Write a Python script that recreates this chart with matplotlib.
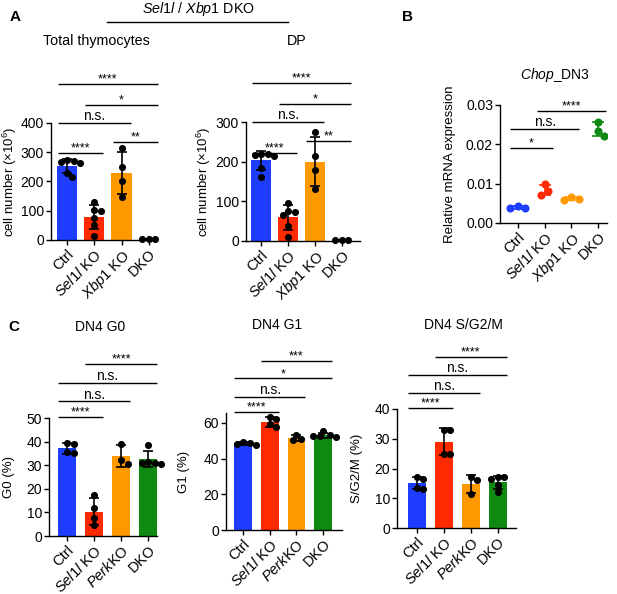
import numpy as np
import matplotlib
matplotlib.use("Agg")
import matplotlib.pyplot as plt

plt.rcParams['font.family'] = ['Liberation Sans', 'DejaVu Sans']
plt.rcParams['mathtext.fontset'] = 'custom'
plt.rcParams['mathtext.rm'] = 'Liberation Sans'
plt.rcParams['mathtext.it'] = 'Liberation Sans:italic'
plt.rcParams['mathtext.bf'] = 'Liberation Sans:bold'
plt.rcParams['axes.linewidth'] = 1.0
plt.rcParams['xtick.major.width'] = 1.0
plt.rcParams['ytick.major.width'] = 1.0
plt.rcParams['xtick.major.size'] = 3.5
plt.rcParams['ytick.major.size'] = 3.5

# ---------------- data ----------------
colors4 = ["#1f3dff", "#ff2a00", "#ff9900", "#0e8a12"]

labels_A = ["Ctrl", r"$\mathit{Sel1l}$ KO", r"$\mathit{Xbp1}$ KO", "DKO"]
labels_C = ["Ctrl", r"$\mathit{Sel1l}$ KO", r"$\mathit{Perk}$KO", "DKO"]

total_ctrl = [275, 270, 268, 262, 230, 215]
total_sel1l = [130, 102, 100, 75, 52, 15]
total_xbp1 = [315, 250, 200, 148]
total_dko = [3, 3, 3]

dp_ctrl = [220, 220, 218, 214, 185, 162]
dp_sel1l = [97, 76, 72, 66, 38, 10]
dp_xbp1 = [275, 215, 180, 130]
dp_dko = [2, 2, 2]

chop_ctrl = [0.0037, 0.0043, 0.0039]
chop_sel1l = [0.0072, 0.0098, 0.0081]
chop_xbp1 = [0.0058, 0.0066, 0.0061]
chop_dko = [0.0258, 0.0222, 0.0235]

g0_ctrl = [39.5, 39.0, 35.5, 35.0]
g0_sel1l = [17.5, 12.0, 7.5, 4.5]
g0_perk = [39.0, 32.0, 30.5]
g0_dko = [38.5, 31.5, 31.0, 30.5, 31.0]

g1_ctrl = [49.5, 48.5, 47.5, 48.0]
g1_sel1l = [63.5, 62.5, 59.5, 57.5]
g1_perk = [53.5, 51.0, 50.5]
g1_dko = [55.5, 53.5, 52.0, 52.5, 52.5]

s_ctrl = [17.0, 16.5, 13.0, 13.5]
s_sel1l = [33.0, 33.0, 25.0, 25.0]
s_perk = [17.0, 16.0, 11.5]
s_dko = [17.0, 17.0, 16.5, 14.5, 12.0]

# significance: (group_a, group_b, y, label)
sig_total = [(0, 1, 297, "****"), (2, 3, 335, "**"), (0, 2, 400, "n.s."),
             (1, 3, 462, "*"), (0, 3, 533, "****")]
sig_dp = [(0, 1, 222, "****"), (2, 3, 252, "**"), (0, 2, 300, "n.s."),
          (1, 3, 346, "*"), (0, 3, 398, "****")]
sig_chop = [(0, 1, 0.0190, "*"), (0, 2, 0.0239, "n.s."), (1, 3, 0.0285, "****")]
sig_g0 = [(0, 1, 50.5, "****"), (0, 2, 57.0, "n.s."), (0, 3, 65.0, "n.s."),
          (1, 3, 73.0, "****")]
sig_g1 = [(0, 1, 66.0, "****"), (0, 2, 74.5, "n.s."), (0, 3, 85.0, "*"),
          (1, 3, 95.0, "***")]
sig_s = [(0, 1, 40.5, "****"), (0, 2, 45.5, "n.s."), (0, 3, 51.5, "n.s."),
         (1, 3, 57.5, "****")]

W, H = 617, 594
fig = plt.figure(figsize=(W / 100, H / 100), dpi=100)

TICK_FS = 10
XLAB_FS = 10.5
YLAB_FS = 9.5
TITLE_FS = 10


def add_ax(x0, x1, y0, y1):
    return fig.add_axes([x0 / W, 1 - y0 / H, (x1 - x0) / W, (y0 - y1) / H])


def swarm_x(ax, xc, ys, d_px):
    t = ax.transData
    p0 = t.transform((0, 0))
    p1 = t.transform((1, 1))
    sx, sy = p1[0] - p0[0], p1[1] - p0[1]
    cands = np.arange(-4, 4.01, 0.25) * d_px
    cands = cands[np.argsort(np.abs(cands) + 1e-6 * (cands < 0))]
    placed = []
    xs = np.zeros(len(ys))
    for i in np.argsort(ys)[::-1]:
        ypx = ys[i] * sy
        for c in cands:
            if all((c - px) ** 2 + (ypx - py) ** 2 >= (d_px * 0.95) ** 2 for px, py in placed):
                placed.append((c, ypx))
                xs[i] = xc + c / sx
                break
    return xs


def style_ax(ax):
    for s in ["top", "right"]:
        ax.spines[s].set_visible(False)
    ax.tick_params(labelsize=TICK_FS, pad=1.5)


def sig_lines(ax, sigs, pad=0.33, fs_star=9, fs_ns=10):
    for a, b, y, lab in sigs:
        ax.plot([a - pad, b + pad], [y, y], color="black", lw=1.0, clip_on=False,
                solid_capstyle="butt")
        if lab == "n.s.":
            ax.annotate(lab, ((a + b) / 2, y), xytext=(0, 2), textcoords="offset points",
                        ha="center", va="baseline", fontsize=fs_ns, annotation_clip=False)
        else:
            ax.annotate(lab, ((a + b) / 2, y), xytext=(0, 1.0), textcoords="offset points",
                        ha="center", va="baseline", fontsize=fs_star, annotation_clip=False)


def xlabels(ax, labels):
    ax.set_xticks(range(len(labels)))
    ax.set_xticklabels(labels, rotation=45, ha="right", rotation_mode="anchor",
                       fontsize=XLAB_FS)


def bar_panel(ax, groups, width, xlim, ylim, yticks, d_px=6.5, s=26):
    ax.set_xlim(*xlim)
    ax.set_ylim(*ylim)
    ax.set_yticks(yticks)
    means = [np.mean(g) for g in groups]
    sds = [np.std(g, ddof=1) for g in groups]
    ax.bar(range(len(groups)), means, width=width, color=colors4[:len(groups)], zorder=1)
    ax.errorbar(range(len(groups)), means, yerr=sds, fmt="none", ecolor="black",
                elinewidth=1.2, capsize=3.8, capthick=1.2, zorder=2, clip_on=False)
    for i, g in enumerate(groups):
        xs = swarm_x(ax, i, np.array(g, float), d_px)
        ax.scatter(xs, g, s=s, color="black", zorder=3, linewidths=0, clip_on=False)
    style_ax(ax)


# ---------------- Panel A ----------------
axA1 = add_ax(51, 157, 240, 123)
bar_panel(axA1, [total_ctrl, total_sel1l, total_xbp1, total_dko], 0.74,
          (-0.59, 3.3), (0, 400), [0, 100, 200, 300, 400])
xlabels(axA1, labels_A)
axA1.set_ylabel(r"cell number (×10$^6$)", fontsize=YLAB_FS)
axA1.yaxis.set_label_coords(-0.30, 0.5)
sig_lines(axA1, sig_total)

axA2 = add_ax(246, 360, 241, 122)
bar_panel(axA2, [dp_ctrl, dp_sel1l, dp_xbp1, dp_dko], 0.74,
          (-0.56, 3.67), (0, 300), [0, 100, 200, 300])
xlabels(axA2, labels_A)
axA2.set_ylabel(r"cell number (×10$^6$)", fontsize=YLAB_FS)
axA2.yaxis.set_label_coords(-0.29, 0.5)
sig_lines(axA2, sig_dp)

fig.text(96 / W, 1 - 41 / H, "Total thymocytes", ha="center", va="center",
         fontsize=TITLE_FS + 0.3)
fig.text(297 / W, 1 - 41 / H, "DP", ha="center", va="center", fontsize=TITLE_FS + 0.3)
fig.text(198 / W, 1 - 9 / H, r"$\mathit{Sel1l}$ / $\mathit{Xbp1}$ DKO", ha="center",
         va="center", fontsize=TITLE_FS + 0.3)
fig.add_artist(plt.Line2D([107 / W, 288 / W], [1 - 22 / H, 1 - 22 / H],
                          color="black", lw=1.0))
fig.text(10 / W, 1 - 17 / H, "A", ha="left", va="center", fontsize=11, fontweight="bold")
fig.text(402 / W, 1 - 17 / H, "B", ha="left", va="center", fontsize=11, fontweight="bold")
fig.text(8 / W, 1 - 327 / H, "C", ha="left", va="center", fontsize=11, fontweight="bold")

# ---------------- Panel B ----------------
axB = add_ax(500, 607, 223, 105)
axB.set_xlim(-0.67, 3.33)
axB.set_ylim(0, 0.03)
axB.set_yticks([0, 0.01, 0.02, 0.03])
axB.set_yticklabels(["0.00", "0.01", "0.02", "0.03"])
for i, g in enumerate([chop_ctrl, chop_sel1l, chop_xbp1, chop_dko]):
    g = np.array(g)
    axB.errorbar([i], [g.mean()], yerr=[g.std(ddof=1)], fmt="none", ecolor=colors4[i],
                 elinewidth=1.2, capsize=4.2, capthick=1.2, zorder=2)
    xs = swarm_x(axB, i, g, 7.5)
    axB.scatter(xs, g, s=34, color=colors4[i], zorder=3, linewidths=0)
style_ax(axB)
xlabels(axB, labels_A)
axB.set_ylabel("Relative mRNA expression", fontsize=YLAB_FS)
axB.yaxis.set_label_coords(-0.41, 0.5)
sig_lines(axB, sig_chop, pad=0.3)
fig.text(555 / W, 1 - 75 / H, r"$\mathit{Chop}$_DN3", ha="center", va="center",
         fontsize=TITLE_FS)

# ---------------- Panel C ----------------
axC1 = add_ax(49, 157, 536, 418)
bar_panel(axC1, [g0_ctrl, g0_sel1l, g0_perk, g0_dko], 0.66,
          (-0.67, 3.33), (0, 50), [0, 10, 20, 30, 40, 50])
xlabels(axC1, labels_C)
axC1.set_ylabel("G0 (%)", fontsize=YLAB_FS)
axC1.yaxis.set_label_coords(-0.315, 0.5)
sig_lines(axC1, sig_g0)

axC2 = add_ax(226, 342, 530, 413)
bar_panel(axC2, [g1_ctrl, g1_sel1l, g1_perk, g1_dko], 0.66,
          (-0.64, 3.71), (0, 65.6), [0, 20, 40, 60])
xlabels(axC2, labels_C)
axC2.set_ylabel("G1 (%)", fontsize=YLAB_FS)
axC2.yaxis.set_label_coords(-0.31, 0.5)
sig_lines(axC2, sig_g1)

axC3 = add_ax(397, 516, 528, 409)
bar_panel(axC3, [s_ctrl, s_sel1l, s_perk, s_dko], 0.66,
          (-0.74, 3.67), (0, 40), [0, 10, 20, 30, 40])
xlabels(axC3, labels_C)
axC3.set_ylabel("S/G2/M (%)", fontsize=YLAB_FS)
axC3.yaxis.set_label_coords(-0.286, 0.5)
sig_lines(axC3, sig_s)

fig.text(100 / W, 1 - 327 / H, "DN4 G0", ha="center", va="center", fontsize=TITLE_FS)
fig.text(277 / W, 1 - 325 / H, "DN4 G1", ha="center", va="center", fontsize=TITLE_FS)
fig.text(463 / W, 1 - 325 / H, "DN4 S/G2/M", ha="center", va="center", fontsize=TITLE_FS)

fig.savefig("out.png", dpi=100)
